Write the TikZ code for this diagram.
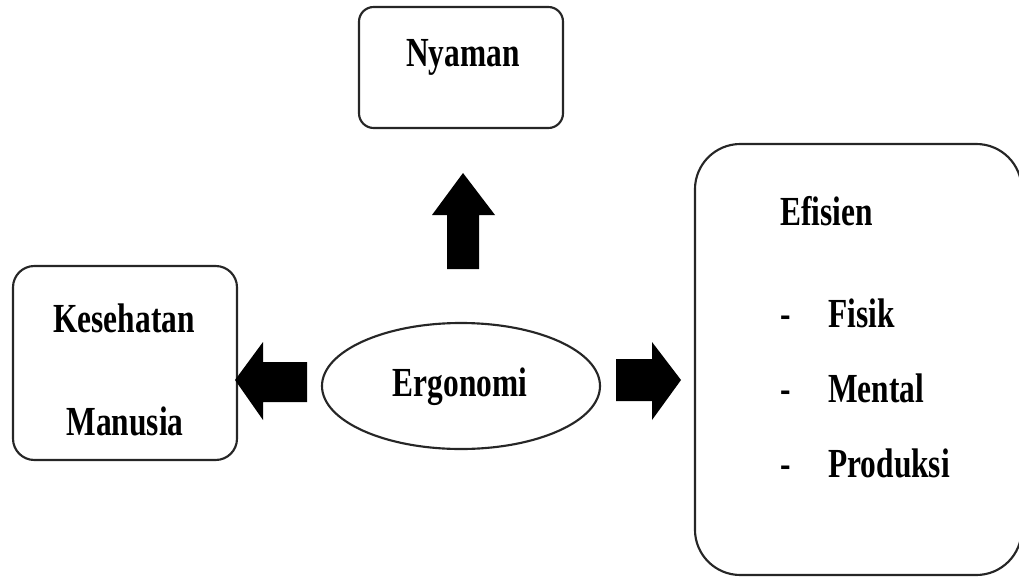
\documentclass[tikz,border=0pt]{standalone}
\usepackage{fontspec}
\newfontfamily\tnr[FakeStretch=0.76]{Liberation Serif}
\usetikzlibrary{shapes.geometric}
\begin{document}
\begin{tikzpicture}[x=0.75pt,y=-0.75pt,
  frame/.style={draw=black!85, line width=1.6pt, inner sep=0pt, outer sep=0pt},
  lbl/.style={font=\tnr\bfseries\fontsize{31}{31}\selectfont, inner sep=0pt, text=black},
  blockarrow/.style={fill=black}]
\useasboundingbox (0,0) rectangle (1019,577);
\clip (0,0) rectangle (1019,577);
% boxes
\node[frame, rounded corners=11pt, minimum width=153pt, minimum height=90.75pt] (nyaman) at (461,67.5) {};
\node[frame, rounded corners=16pt, minimum width=168pt, minimum height=145.5pt] (kes) at (125,363) {};
\node[frame, rounded corners=34pt, minimum width=245pt, minimum height=323.25pt] (efi) at (858.3,359.5) {};
\node[frame, ellipse, minimum width=208.5pt, minimum height=94.5pt] (ergo) at (461,386) {};
% texts
\node[lbl, anchor=base] (tNyaman) at (463,67) {Nyaman};
\node[lbl, anchor=base] (tKes) at (124,332) {Kesehatan};
\node[lbl, anchor=base] (tMan) at (125,435) {Manusia};
\node[lbl, anchor=base] (tErgo) at (460,396) {Ergonomi};
\node[lbl, anchor=base west] (tEfi) at (780,225) {Efisien};
\node[lbl, anchor=base west] (d1) at (780,327) {-};
\node[lbl, anchor=base west] (d2) at (780,402) {-};
\node[lbl, anchor=base west] (d3) at (780,477) {-};
\node[lbl, anchor=base west] (tFis) at (828,327) {Fisik};
\node[lbl, anchor=base west] (tMen) at (828,402) {Mental};
\node[lbl, anchor=base west] (tPro) at (828,477) {Produksi};
% block arrows
\fill[blockarrow] (463,173) -- (495,215) -- (479,215) -- (479,269) -- (447,269) -- (447,215) -- (432,215) -- cycle;
\fill[blockarrow] (235,380) -- (263,342) -- (263,362) -- (307,362) -- (307,402) -- (263,402) -- (263,420) -- cycle;
\fill[blockarrow] (681,380) -- (652,342) -- (652,359) -- (616,359) -- (616,401) -- (652,401) -- (652,420) -- cycle;
\end{tikzpicture}
\end{document}
